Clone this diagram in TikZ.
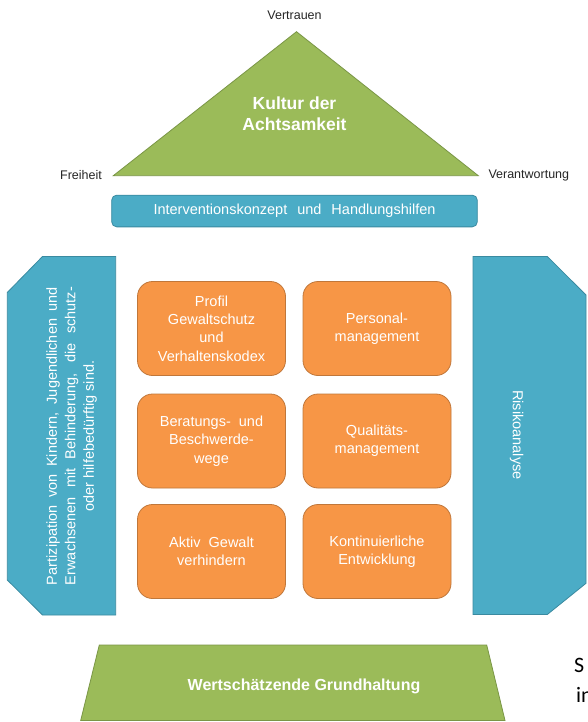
\documentclass[tikz,border=0pt]{standalone}
\usepackage{fontspec}
\setmainfont{Liberation Sans}
\newfontfamily\calibfont{Carlito}
\definecolor{grn}{HTML}{9BBB59}
\definecolor{grnd}{HTML}{7A9646}
\definecolor{blu}{HTML}{4BACC6}
\definecolor{blud}{HTML}{3A8AA0}
\definecolor{org}{HTML}{F79646}
\definecolor{orgd}{HTML}{C0773A}
\definecolor{lbl}{HTML}{262626}
\begin{document}
\begin{tikzpicture}[x=1pt,y=-1pt,
  obox/.style={draw=orgd, fill=org, rounded corners=15pt, line width=0.8pt, text=white,
    font=\fontsize{14.5}{18.3}\selectfont, align=center, minimum width=148pt, minimum height=94pt, inner sep=0pt},
  bodytext/.style={text=white, font=\fontsize{14.5}{18.5}\selectfont, align=center, inner sep=0pt},
  lbltext/.style={text=lbl, font=\fontsize{12.5}{15}\selectfont, inner sep=0pt},
  bigtext/.style={text=white, font=\bfseries\fontsize{17.5}{21}\selectfont, align=center, inner sep=0pt},
  blushape/.style={draw=blud, fill=blu, line width=0.8pt},
  grnshape/.style={draw=grnd, fill=grn, line width=0.8pt}
]
\clip (0,0) rectangle (587,722);
\fill[white] (0,0) rectangle (587,722);

% triangle
\draw[grnshape, line join=miter] (296.5,31.7) -- (478.3,175.7) -- (113.3,175.7) -- cycle;
\node[bigtext] (kultur) at (294.5,113.5) {Kultur der\\Achtsamkeit};
\node[lbltext] (vertrauen) at (294.5,15) {Vertrauen};
\node[lbltext] (freiheit) at (81,175) {Freiheit};
\node[lbltext] (verantwortung) at (528.8,175) {Verantwortung};

% intervention bar
\node[blushape, rounded corners=5pt, minimum width=365.6pt, minimum height=31.7pt, inner sep=0pt,
  text=white, font=\fontsize{14.5}{17}\selectfont] (interv) at (294.5,211)
  {\makebox[282pt][s]{Interventionskonzept und Handlungshilfen}};

% left pillar
\draw[blushape] (7.3,292.5) -- (42.5,256.5) -- (115.7,256.5) -- (115.7,615) -- (42.5,615) -- (7.3,580) -- cycle;
\node[bodytext, rotate=90] (partizipation) at (71.5,436)
  {\makebox[298pt][s]{Partizipation von Kindern, Jugendlichen und}\\
   \makebox[298pt][s]{Erwachsenen mit Behinderung, die schutz-}\\
   oder hilfebedürftig sind.};

% right pillar
\draw[blushape] (473,256.5) -- (547.3,256.5) -- (586,295) -- (586,583.3) -- (547.3,614.5) -- (473,614.5) -- cycle;
\node[bodytext, rotate=-90] (risiko) at (516.7,435) {Risikoanalyse};

% orange boxes
\node[obox] (b1) at (211.5,328.5) {Profil\\Gewaltschutz\\und\\Verhaltenskodex};
\node[obox] (b2) at (377,328.5) {Personal-\\management};
\node[obox] (b3) at (211.5,441) {Beratungs- \ und\\Beschwerde-\\wege};
\node[obox] (b4) at (377,441) {Qualitäts-\\management};
\node[obox] (b5) at (211.5,551.5) {Aktiv \ Gewalt\\verhindern};
\node[obox] (b6) at (377,551.5) {Kontinuierliche\\Entwicklung};

% base trapezoid
\draw[grnshape] (99.3,645) -- (486.7,645) -- (505,720.5) -- (80.7,720.5) -- cycle;
\node[text=white, font=\bfseries\fontsize{16}{19}\selectfont, inner sep=0pt] (grund) at (304,686) {Wertschätzende Grundhaltung};

% cut-off text at right edge (as in the reference)
\node[anchor=base west, inner sep=0pt, font=\calibfont\fontsize{22}{26}\selectfont, text=black] (tS) at (574,672) {S};
\node[anchor=base west, inner sep=0pt, font=\calibfont\fontsize{22}{26}\selectfont, text=black] (tin) at (576,702) {in};
\end{tikzpicture}
\end{document}
